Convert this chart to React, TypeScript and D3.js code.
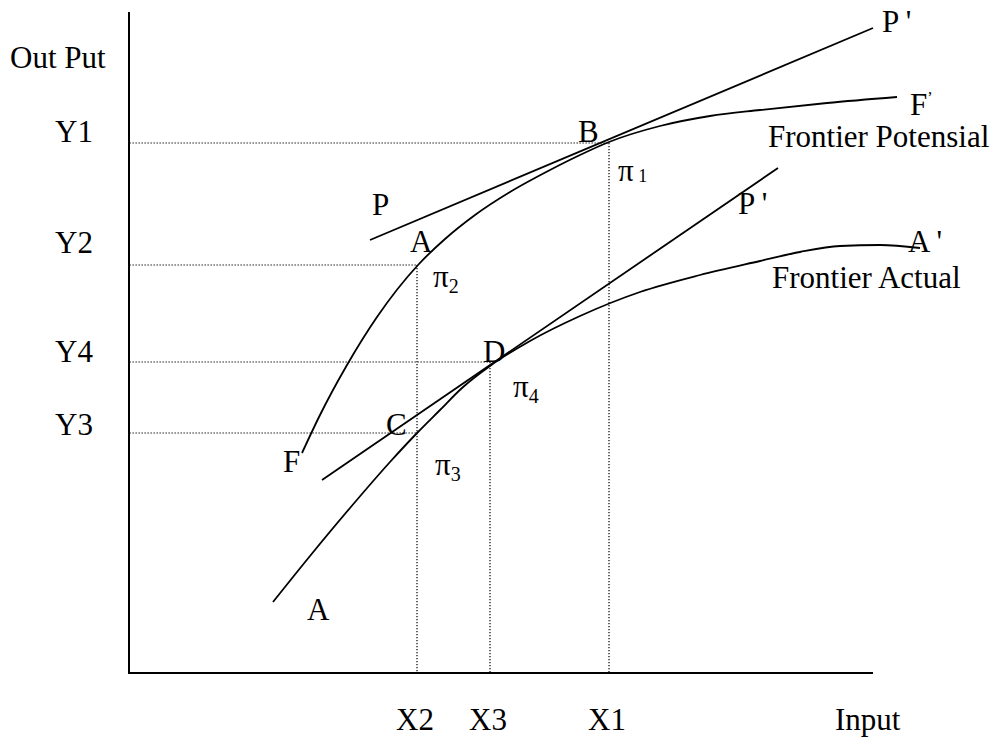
import { useEffect, useRef } from "react"
import * as d3 from "d3"

// Coordinates are in chart units: input along x, output along y (origin at the axis corner)
const frontierPotential: [number, number][] = [
  [174, 220], [192, 258], [219, 308], [249, 356], [290, 408], [317, 434], [347, 458],
  [382, 481], [422, 503], [452, 518], [481, 531], [532, 547], [582, 557], [632, 563],
  [699, 570], [769, 576],
]

const frontierActual: [number, number][] = [
  [145, 71], [182, 117], [222, 165], [262, 211], [290, 241], [312, 263], [334, 285],
  [362, 307], [402, 332], [452, 357], [512, 381], [572, 398], [632, 412], [672, 421],
  [712, 427], [752, 428], [792, 425],
]

const priceLineUpper: [number, number][] = [[242, 433], [745, 645]]
const priceLineLower: [number, number][] = [[194, 193], [650, 505]]

const yLevels = [
  { label: "Y1", value: 530, reach: 481, labelY: 531 },
  { label: "Y2", value: 408, reach: 289, labelY: 420 },
  { label: "Y4", value: 311, reach: 362, labelY: 311 },
  { label: "Y3", value: 240, reach: 289, labelY: 238 },
]

const xLevels = [
  { label: "X2", value: 289, reach: 408 },
  { label: "X3", value: 362, reach: 311 },
  { label: "X1", value: 481, reach: 530 },
]

const pointLabels = [
  { text: "P '", x: 754, y: 641, sub: "" },
  { text: "F", x: 782, y: 558, sub: "", sup: "ʼ" },
  { text: "B", x: 450, y: 531, sub: "" },
  { text: "P", x: 244, y: 458, sub: "" },
  { text: "A", x: 282, y: 421, sub: "" },
  { text: "P '", x: 610, y: 459, sub: "" },
  { text: "A '", x: 780, y: 421, sub: "" },
  { text: "D", x: 355, y: 311, sub: "" },
  { text: "C", x: 258, y: 238, sub: "" },
  { text: "F", x: 155, y: 201, sub: "" },
  { text: "A", x: 179, y: 53, sub: "" },
  { text: "π", x: 490, y: 492, sub: " 1" },
  { text: "π", x: 305, y: 386, sub: "2" },
  { text: "π", x: 385, y: 276, sub: "4" },
  { text: "π", x: 307, y: 198, sub: "3" },
]

const curveLabels = [
  { text: "Frontier Potensial", x: 640, y: 526 },
  { text: "Frontier Actual", x: 644, y: 385 },
]

const FONT = "'Liberation Serif', 'Times New Roman', serif"

export default function App() {
  const svgRef = useRef<SVGSVGElement>(null)

  useEffect(() => {
    if (!svgRef.current) return
    const svg = d3.select(svgRef.current)
    svg.selectAll("*").remove()

    const x = d3.scaleLinear().domain([0, 745]).range([128, 873])
    const y = d3.scaleLinear().domain([0, 661]).range([673, 12])

    svg.append("rect").attr("width", 1000).attr("height", 738).attr("fill", "#ffffff")

    // dotted guide lines
    const dots = svg.append("g").attr("stroke", "#000").attr("stroke-width", 1.2).attr("stroke-dasharray", "1.3,1.7")
    yLevels.forEach((d) => {
      dots.append("line").attr("x1", x(1.5)).attr("x2", x(d.reach)).attr("y1", y(d.value)).attr("y2", y(d.value))
    })
    xLevels.forEach((d) => {
      dots.append("line").attr("x1", x(d.value)).attr("x2", x(d.value)).attr("y1", y(d.reach)).attr("y2", y(0))
    })

    // axes
    svg.append("line").attr("x1", x(1)).attr("x2", x(1)).attr("y1", y(661)).attr("y2", y(0))
      .attr("stroke", "#000").attr("stroke-width", 2)
    svg.append("line").attr("x1", x(0)).attr("x2", x(745)).attr("y1", y(0)).attr("y2", y(0))
      .attr("stroke", "#000").attr("stroke-width", 2)

    const line = d3.line<[number, number]>().x((d) => x(d[0])).y((d) => y(d[1]))
    const smooth = d3.line<[number, number]>().x((d) => x(d[0])).y((d) => y(d[1])).curve(d3.curveMonotoneX)

    const marks = svg.append("g").attr("fill", "none").attr("stroke", "#000").attr("stroke-width", 1.8)
    marks.append("path").attr("d", smooth(frontierPotential))
    marks.append("path").attr("d", smooth(frontierActual))
    marks.append("path").attr("d", line(priceLineUpper))
    marks.append("path").attr("d", line(priceLineLower))

    const text = svg.append("g").attr("font-family", FONT).attr("font-size", 31).attr("fill", "#000")

    text.append("text").attr("x", 10).attr("y", 68).text("Out Put")
    text.append("text").attr("x", 835).attr("y", 730).text("Input")

    yLevels.forEach((d) => {
      text.append("text").attr("x", 55).attr("y", y(d.labelY)).text(d.label)
    })
    xLevels.forEach((d) => {
      text.append("text").attr("x", x(d.value) - 2).attr("y", 730).attr("text-anchor", "middle").text(d.label)
    })

    pointLabels.forEach((d) => {
      const t = text.append("text").attr("x", x(d.x)).attr("y", y(d.y))
      t.append("tspan").text(d.text)
      if (d.sub) {
        t.append("tspan").attr("font-size", d.sub.startsWith(" ") ? 18 : 20).attr("dy", d.sub.startsWith(" ") ? 1 : 6).text(d.sub)
      }
      if ((d as any).sup) {
        t.append("tspan").attr("font-size", 16).attr("dy", -12).text((d as any).sup)
      }
    })

    curveLabels.forEach((d) => {
      text.append("text").attr("x", x(d.x)).attr("y", y(d.y)).text(d.text)
    })
  }, [])

  return (
    <div style={{ position: "absolute", left: 0, top: 0, width: 1000, height: 738 }}>
      <svg ref={svgRef} width={1000} height={738}></svg>
    </div>
  )
}
